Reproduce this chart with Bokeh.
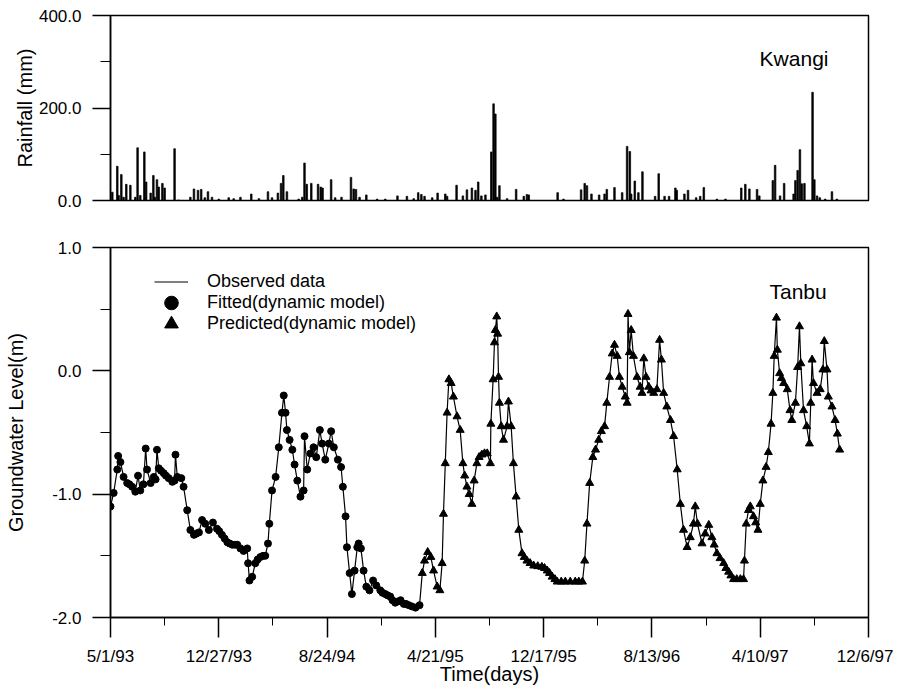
from bokeh.plotting import figure
from bokeh.layouts import column
from bokeh.models import FixedTicker, Label, Legend, LegendItem, NumeralTickFormatter
from bokeh.embed import file_html
from bokeh.resources import INLINE

FONT = "Liberation Sans"

# ---- x axis (days since 5/1/93) ----
tick_days = [0, 240, 480, 720, 960, 1200, 1440, 1680]
tick_labels = ["5/1/93", "12/27/93", "8/24/94", "4/21/95", "12/17/95", "8/13/96", "4/10/97", "12/6/97"]
minor_days = [120, 360, 600, 840, 1080, 1320, 1560]

# ---- Rainfall at Kwangi (mm) ----
rain_day = [4, 15, 18, 24, 29, 35, 44, 55, 60, 66, 75, 79, 89, 95, 98, 103, 107, 115, 120, 142,
            151, 177, 185, 194, 201, 209, 216, 225, 240, 262, 273, 288, 312, 329, 349, 358, 371,
            378, 383, 391, 417, 425, 430, 435, 445, 460, 466, 470, 489, 498, 512, 533, 539, 544,
            552, 567, 591, 609, 636, 657, 672, 682, 689, 696, 713, 725, 742, 746, 767, 781, 790,
            801, 809, 815, 822, 831, 844, 849, 853, 857, 862, 879, 899, 916, 923, 927, 991, 1004,
            1043, 1051, 1056, 1066, 1083, 1095, 1100, 1117, 1134, 1145, 1151, 1154, 1162, 1170,
            1179, 1207, 1215, 1228, 1238, 1252, 1255, 1272, 1280, 1298, 1307, 1315, 1344, 1363,
            1398, 1407, 1416, 1433, 1438, 1468, 1473, 1484, 1493, 1514, 1518, 1523, 1528, 1532,
            1538, 1556, 1560, 1566, 1572, 1584, 1599, 1610]
rain_mm = [18, 74, 11, 56, 7, 35, 33, 7, 114, 11, 105, 40, 16, 54, 7, 45, 29, 37, 27, 112,
           1, 7, 25, 22, 24, 6, 19, 7, 3, 6, 4, 7, 14, 4, 19, 6, 16,
           37, 54, 19, 3, 7, 81, 35, 37, 35, 29, 27, 45, 6, 7, 50, 25, 24,
           7, 12, 3, 3, 10, 9, 4, 17, 13, 9, 6, 16, 14, 9, 33, 10, 23,
           27, 22, 40, 10, 12, 105, 209, 187, 7, 32, 4, 24, 9, 13, 12, 17, 3,
           23, 37, 32, 14, 12, 14, 24, 28, 17, 117, 106, 14, 42, 17,
           62, 9, 58, 9, 9, 27, 22, 14, 22, 6, 9, 28, 3, 3,
           27, 35, 25, 24, 10, 43, 76, 10, 37, 14, 43, 65, 110, 36,
           37, 234, 45, 10, 6, 3, 19, 3]

# ---- Groundwater level at Tanbu (m) ----
fit_day = [0, 7, 15, 17, 22, 29, 37, 42, 48, 55, 61, 66, 73, 78, 81, 89, 96, 100, 103, 107, 112,
           118, 123, 129, 137, 142, 144, 148, 157, 162, 170, 177, 185, 190, 196, 203, 210, 218,
           227, 236, 241, 247, 253, 259, 264, 270, 276, 281, 288, 295, 303, 305, 308, 314, 321,
           326, 332, 338, 343, 349, 352, 358, 366, 373, 380, 384, 388, 391, 397, 403, 408, 414,
           421, 428, 430, 436, 443, 450, 456, 464, 469, 476, 484, 489, 495, 504, 511, 515, 521,
           524, 530, 535, 541, 547, 550, 555, 561, 567, 574, 582, 589, 598, 603, 609, 614, 620,
           625, 631, 637, 643, 650, 655, 661, 668, 676, 685]
fit_level = [-1.10, -0.99, -0.80, -0.69, -0.74, -0.86, -0.91, -0.92, -0.94, -0.98, -0.85, -0.97,
             -0.92, -0.63, -0.80, -0.91, -0.86, -0.88, -0.64, -0.79, -0.81, -0.83, -0.85, -0.87,
             -0.90, -0.89, -0.68, -0.86, -0.87, -0.94, -1.13, -1.29, -1.33, -1.32, -1.31, -1.21,
             -1.24, -1.29, -1.23, -1.28, -1.30, -1.33, -1.36, -1.39, -1.40, -1.41, -1.41, -1.41,
             -1.44, -1.46, -1.44, -1.56, -1.70, -1.67, -1.56, -1.53, -1.51, -1.50, -1.50, -1.40,
             -1.24, -0.97, -0.86, -0.62, -0.34, -0.20, -0.34, -0.48, -0.56, -0.64, -0.76, -0.89,
             -1.02, -0.97, -0.53, -0.80, -0.67, -0.62, -0.70, -0.48, -0.59, -0.72, -0.59, -0.49,
             -0.62, -0.72, -0.78, -0.94, -1.18, -1.43, -1.64, -1.81, -1.62, -1.43, -1.40, -1.44,
             -1.62, -1.75, -1.78, -1.70, -1.74, -1.78, -1.80, -1.81, -1.82, -1.83, -1.86, -1.88,
             -1.87, -1.86, -1.89, -1.89, -1.90, -1.91, -1.92, -1.90]

pred_day = [691, 696, 703, 710, 716, 724, 730, 735, 738, 742, 746, 750, 755, 760, 768, 775, 781,
            785, 790, 795, 801, 806, 812, 817, 823, 829, 835, 842, 843, 848, 851, 853, 856, 858,
            860, 862, 866, 871, 879, 882, 888, 893, 899, 905, 912, 917, 923, 930, 938, 947, 956,
            962, 968, 973, 979, 985, 990, 999, 1008, 1019, 1030, 1038, 1046, 1051, 1056, 1062,
            1069, 1075, 1082, 1088, 1095, 1100, 1106, 1112, 1117, 1123, 1128, 1134, 1141, 1145,
            1147, 1150, 1154, 1159, 1167, 1174, 1178, 1182, 1187, 1193, 1198, 1204, 1211, 1217,
            1221, 1226, 1233, 1241, 1248, 1256, 1263, 1270, 1278, 1285, 1292, 1296, 1301, 1311,
            1318, 1326, 1333, 1338, 1344, 1351, 1359, 1364, 1370, 1375, 1381, 1388, 1396, 1403,
            1405, 1409, 1414, 1418, 1425, 1430, 1435, 1440, 1446, 1453, 1458, 1464, 1468, 1471,
            1476, 1478, 1483, 1487, 1492, 1500, 1506, 1510, 1518, 1523, 1527, 1530, 1536, 1543,
            1549, 1552, 1555, 1558, 1566, 1573, 1579, 1582, 1588, 1591, 1599, 1606, 1611, 1616]
pred_level = [-1.64, -1.54, -1.47, -1.51, -1.62, -1.75, -1.78, -1.56, -1.16, -0.75, -0.34, -0.07,
              -0.10, -0.21, -0.37, -0.48, -0.75, -0.85, -0.94, -1.00, -1.08, -0.89, -0.75, -0.70,
              -0.68, -0.67, -0.67, -0.75, -0.43, -0.07, 0.23, 0.33, 0.44, 0.30, -0.05, -0.26,
              -0.45, -0.56, -0.45, -0.25, -0.45, -0.75, -1.02, -1.29, -1.48, -1.51, -1.54, -1.56,
              -1.58, -1.585, -1.59, -1.60, -1.62, -1.64, -1.67, -1.69, -1.71, -1.71, -1.71, -1.71,
              -1.71, -1.71, -1.71, -1.54, -1.24, -0.91, -0.70, -0.64, -0.56, -0.49, -0.45, -0.26,
              -0.05, 0.14, 0.21, 0.12, -0.05, -0.13, -0.21, -0.26, 0.46, 0.15, 0.33, 0.12, -0.05,
              -0.13, -0.18, 0.10, -0.05, -0.13, -0.16, -0.18, -0.15, 0.25, 0.09, -0.18, -0.29,
              -0.40, -0.53, -0.80, -1.08, -1.29, -1.43, -1.35, -1.24, -1.10, -1.24, -1.40, -1.32,
              -1.25, -1.35, -1.41, -1.48, -1.52, -1.56, -1.60, -1.63, -1.66, -1.69, -1.69, -1.69,
              -1.69, -1.54, -1.24, -1.13, -1.10, -1.18, -1.23, -1.29, -1.08, -0.89, -0.78, -0.66,
              -0.43, -0.18, 0.12, 0.43, 0.17, -0.02, -0.06, -0.10, -0.15, -0.32, -0.40, -0.26,
              0.03, 0.36, 0.06, -0.32, -0.45, -0.59, -0.26, 0.09, -0.10, -0.18, -0.15, 0.01, 0.24,
              0.01, -0.21, -0.29, -0.40, -0.51, -0.64]

obs_day = fit_day + pred_day
obs_level = fit_level + pred_level


def style_axis(ax, tick_out, minor_out, standoff):
    ax.axis_line_color = "black"
    ax.axis_line_width = 1.5
    ax.major_tick_line_color = "black"
    ax.major_tick_line_width = 1.5
    ax.minor_tick_line_color = "black"
    ax.minor_tick_line_width = 1
    ax.major_tick_in = 0
    ax.minor_tick_in = 0
    ax.major_tick_out = tick_out
    ax.minor_tick_out = minor_out
    ax.major_label_text_font = FONT
    ax.major_label_text_font_size = "17px"
    ax.major_label_text_color = "black"
    ax.major_label_standoff = standoff
    ax.axis_label_text_font = FONT
    ax.axis_label_text_font_style = "normal"
    ax.axis_label_text_color = "black"


# ---------------- Top panel: rainfall ----------------
p1 = figure(frame_width=758, frame_height=185, x_range=(0, 1680), y_range=(0, 400),
            output_backend="svg", toolbar_location=None,
            min_border_left=110, min_border_right=25, min_border_top=15, min_border_bottom=25)
p1.xaxis.visible = False
p1.grid.visible = False
p1.outline_line_color = "black"
p1.outline_line_width = 1.5
p1.background_fill_color = "white"

p1.vbar(x=rain_day, top=rain_mm, width=3.5, bottom=0, fill_color="black", line_color="black",
        line_width=0.7)

ya = p1.yaxis[0]
ya.ticker = FixedTicker(ticks=[0, 200, 400], minor_ticks=[100, 300])
ya.formatter = NumeralTickFormatter(format="0.0")
ya.axis_label = "Rainfall (mm)"
style_axis(ya, 18, 10, 11)
ya.axis_label_text_font_size = "20px"
ya.axis_label_standoff = 0

p1.add_layout(Label(x=1515, y=307, text="Kwangi", text_align="center", text_baseline="middle",
                    text_font=FONT, text_font_size="21px", text_color="black"))

# ---------------- Bottom panel: groundwater ----------------
p2 = figure(frame_width=758, frame_height=370, x_range=(0, 1680), y_range=(-2, 1),
            output_backend="svg", toolbar_location=None,
            min_border_left=110, min_border_right=25, min_border_top=22, min_border_bottom=70)
p2.grid.visible = False
p2.outline_line_color = "black"
p2.outline_line_width = 1.5

r_obs = p2.line(obs_day, obs_level, line_color="black", line_width=1.2)
r_fit = p2.scatter(fit_day, fit_level, marker="circle", size=7, fill_color="black",
                   line_color="black")
r_pred = p2.scatter(pred_day, pred_level, marker="triangle", size=8, fill_color="black",
                    line_color="black")

xa = p2.xaxis[0]
xa.ticker = FixedTicker(ticks=tick_days, minor_ticks=minor_days)
xa.major_label_overrides = {d: s for d, s in zip(tick_days, tick_labels)}
xa.axis_label = "Time(days)"
style_axis(xa, 20, 8, 9)
xa.axis_label_text_font_size = "20px"
xa.axis_label_standoff = -6

ya2 = p2.yaxis[0]
ya2.ticker = FixedTicker(ticks=[-2, -1, 0, 1], minor_ticks=[-1.5, -0.5, 0.5])
ya2.formatter = NumeralTickFormatter(format="0.0")
ya2.axis_label = "Groundwater Level(m)"
style_axis(ya2, 18, 10, 11)
ya2.axis_label_text_font_size = "20px"
ya2.axis_label_standoff = 22

legend_rows = [("Observed data", r_obs, 318),
               ("Fitted(dynamic model)", r_fit, 297),
               ("Predicted(dynamic model)", r_pred, 276)]
for text, rend, vy in legend_rows:
    p2.add_layout(Legend(items=[LegendItem(label=text, renderers=[rend])],
                         location=(44, vy), glyph_width=34, glyph_height=35,
                         padding=0, margin=0, label_standoff=19, label_text_font=FONT,
                         label_text_font_size="18px", label_text_color="black",
                         border_line_alpha=0, background_fill_alpha=0))

p2.add_layout(Label(x=1524, y=0.64, text="Tanbu", text_align="center", text_baseline="middle",
                    text_font=FONT, text_font_size="21px", text_color="black"))

layout = column(p1, p2, spacing=0)
open("out.html", "w").write(file_html(layout, INLINE))
